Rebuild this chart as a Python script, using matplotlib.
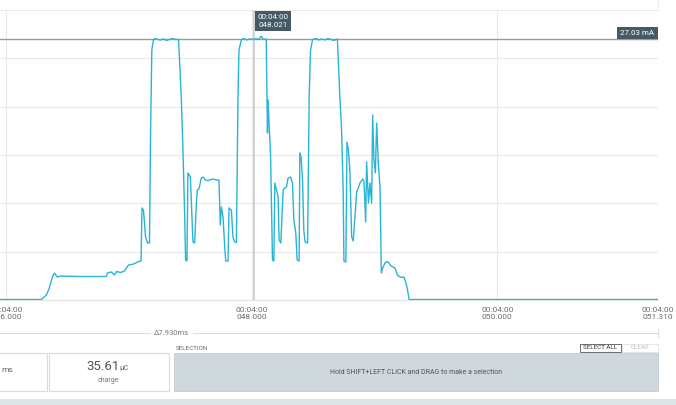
import matplotlib
matplotlib.use('Agg')
import matplotlib.pyplot as plt
from matplotlib.patches import Rectangle
from matplotlib.lines import Line2D

plt.rcParams['font.family'] = ['Roboto', 'DejaVu Sans']

# time in ms (after 00:04:00), current in mA
t_ms = [45.943, 46.286, 46.327, 46.351, 46.376, 46.392, 46.416, 46.441, 46.596, 46.816,
        46.824, 46.857, 46.882, 46.898, 46.931, 46.963, 46.996, 47.037, 47.078, 47.098,
        47.106, 47.118, 47.135, 47.151, 47.167, 47.176, 47.186, 47.200,
        47.216, 47.233, 47.257, 47.282, 47.306, 47.331, 47.355, 47.380, 47.404,
        47.426, 47.439, 47.453, 47.461, 47.472, 47.480, 47.500, 47.521, 47.535, 47.549,
        47.557, 47.570, 47.589, 47.602, 47.624, 47.643, 47.684, 47.712, 47.733, 47.744,
        47.753, 47.766, 47.780, 47.788, 47.807, 47.815, 47.834, 47.847, 47.861, 47.875,
        47.888, 47.896, 47.916,
        47.935, 47.959, 47.984, 48.008, 48.033, 48.057, 48.078, 48.094, 48.118,
        48.128, 48.133, 48.141, 48.153, 48.169, 48.180, 48.188, 48.202, 48.215, 48.223,
        48.237, 48.256, 48.269, 48.283, 48.296, 48.316, 48.332, 48.343, 48.359, 48.370,
        48.386, 48.392, 48.402, 48.414, 48.424, 48.435, 48.455, 48.468, 48.479, 48.496,
        48.522, 48.547, 48.571, 48.596, 48.620, 48.645, 48.669, 48.698,
        48.718, 48.732, 48.745, 48.751, 48.767, 48.776, 48.788, 48.800, 48.814, 48.827,
        48.841, 48.855, 48.868, 48.882, 48.904, 48.914, 48.928, 48.936, 48.951, 48.963,
        48.977, 48.985, 48.996, 49.007, 49.018, 49.031, 49.045, 49.056, 49.067, 49.086,
        49.102, 49.118, 49.135, 49.151, 49.167, 49.186, 49.208, 49.230, 49.239, 49.257,
        49.268, 49.282, 51.314]
i_ma = [0.05, 0.05, 0.52, 1.24, 2.38, 2.79, 2.38, 2.48, 2.43, 2.43,
        2.79, 2.90, 2.59, 2.95, 2.84, 3.00, 3.62, 3.72, 3.98, 4.03,
        9.52, 9.31, 6.52, 5.90, 5.90, 17.59, 25.86, 26.95,
        27.05, 26.95, 26.90, 27.00, 26.85, 26.95, 27.05, 26.95, 26.95,
        21.00, 15.83, 9.00, 4.14, 4.03, 13.14, 12.72, 6.00, 5.90, 10.03,
        11.38, 11.48, 12.62, 12.72, 12.41, 12.36, 12.52, 12.41, 12.41, 7.76,
        9.62, 8.59, 5.48, 4.03, 4.03, 9.52, 9.31, 6.52, 6.00, 5.95,
        21.00, 25.86, 26.95,
        27.05, 26.90, 27.00, 26.95, 27.05, 26.95, 27.31, 26.95, 27.00,
        17.28, 20.69, 18.31, 15.21, 4.14, 4.03, 12.10, 11.38, 10.66, 6.21,
        5.90, 11.38, 11.59, 11.69, 12.62, 12.72, 12.10, 8.28, 6.93, 4.14,
        4.03, 15.21, 14.79, 12.41, 7.24, 6.00, 5.90, 21.00, 25.86, 26.95,
        27.05, 26.90, 27.00, 26.90, 27.05, 26.95, 26.85, 27.00,
        21.00, 17.59, 11.38, 4.03, 3.93, 16.34, 15.52, 13.24, 6.52, 6.10,
        8.59, 11.17, 11.59, 12.10, 12.52, 12.31, 8.07, 14.28, 10.03, 12.10,
        10.03, 19.14, 14.48, 13.14, 18.31, 14.17, 11.69, 2.79, 3.31, 3.83,
        3.98, 3.83, 3.52, 3.41, 3.31, 2.59, 2.38, 2.33, 2.38, 1.76,
        1.14, 0.05, 0.05]

tick_pos = [46.0, 48.0, 50.0, 51.31]
tick_labels = ['00:04:00\n046.000', '00:04:00\n048.000', '00:04:00\n050.000', '00:04:00\n051.310']
marker_ma = 27.03
cursor_ms = 48.021

W, H = 676, 405
fig = plt.figure(figsize=(W / 100, H / 100), dpi=100)


def fx(x):
    return x / W


def fy(y):
    return 1 - y / H


ax = fig.add_axes([0, fy(300), fx(658), (300 - 10) / H])
ax.plot(t_ms, i_ma, color='#29b4d5', lw=1.0, zorder=3)
ax.set_xlim(45.949, 51.31)
ax.set_ylim(0, 30)
ax.set_yticks(range(0, 31, 5))
ax.set_xticks(tick_pos)
ax.set_xticklabels(tick_labels, fontsize=6, color='#6e6e6e', linespacing=1.25)
ax.tick_params(axis='x', length=0, pad=5)
ax.tick_params(axis='y', length=0, labelleft=False)
ax.grid(True, color='#e9e9e9', lw=0.8)
for s in ['top', 'left', 'right']:
    ax.spines[s].set_visible(False)
ax.spines['bottom'].set_color('#e3e3e3')
ax.set_axisbelow(True)

# marker line and label
ax.axhline(marker_ma, color='#8d9fa5', lw=1.0, zorder=2)
fig.patches.append(Rectangle((fx(617), fy(39)), fx(41), 12 / H, transform=fig.transFigure,
                             facecolor='#455a64', edgecolor='none'))
fig.text(fx(637.5), fy(33), '27.03 mA', color='white', fontsize=5.7, ha='center', va='center')

# cursor
ax.axvline(cursor_ms, color='#ccd2d5', lw=1.4, zorder=2)
fig.patches.append(Rectangle((fx(254.5), fy(31)), fx(36.5), 20 / H, transform=fig.transFigure,
                             facecolor='#455a64', edgecolor='none'))
fig.text(fx(273), fy(21), '00:04:00\n048.021', color='white', fontsize=5.8,
         ha='center', va='center', linespacing=1.45)

# cut-off label at top
fig.text(fx(171), fy(-2), 'Δseconds', color='#9a9a9a', fontsize=6, ha='center', va='center')
fig.add_artist(Line2D([fx(658), fx(658)], [fy(0), fy(10)], color='#eeeeee', lw=0.8))

# delta span line
fig.add_artist(Line2D([0, fx(150)], [fy(333), fy(333)], color='#dddddd', lw=0.8))
fig.add_artist(Line2D([fx(193), fx(658)], [fy(333), fy(333)], color='#dddddd', lw=0.8))
fig.add_artist(Line2D([fx(658), fx(658)], [fy(329), fy(337)], color='#dddddd', lw=0.8))
fig.text(fx(171.5), fy(333), 'Δ7.930ms', color='#777777', fontsize=5.5, ha='center', va='center')

# bottom panel
fig.patches.append(Rectangle((fx(-2), fy(391)), fx(49), 38 / H, transform=fig.transFigure,
                             facecolor='white', edgecolor='#dadada', lw=0.8))
fig.text(fx(1), fy(370), 'ms', color='#666666', fontsize=6, ha='left', va='center')
fig.patches.append(Rectangle((fx(48.5), fy(391)), fx(120.5), 38 / H, transform=fig.transFigure,
                             facecolor='white', edgecolor='#dadada', lw=0.8))
fig.text(fx(103), fy(367), '35.61', color='#555555', fontsize=9.5, ha='center', va='center')
fig.text(fx(119), fy(368), 'μC', color='#666666', fontsize=5.5, ha='left', va='center')
fig.text(fx(108.5), fy(381), 'charge', color='#777777', fontsize=5, ha='center', va='center')

fig.text(fx(176), fy(348), 'SELECTION', color='#666666', fontsize=4.5, ha='left', va='center')
fig.patches.append(Rectangle((fx(174), fy(391)), fx(484), 38 / H, transform=fig.transFigure,
                             facecolor='#cfd8dc', edgecolor='#c4ced2', lw=0.6))
fig.text(fx(416), fy(372), 'Hold SHIFT+LEFT CLICK and DRAG to make a selection',
         color='#555555', fontsize=5, ha='center', va='center')

fig.patches.append(Rectangle((fx(580), fy(351.5)), fx(41), 8 / H, transform=fig.transFigure,
                             facecolor='white', edgecolor='#555555', lw=0.6))
fig.text(fx(600.5), fy(347.5), 'SELECT ALL', color='#333333', fontsize=4.5, ha='center', va='center')
fig.patches.append(Rectangle((fx(622), fy(351.5)), fx(36), 8 / H, transform=fig.transFigure,
                             facecolor='white', edgecolor='#e2e2e2', lw=0.6))
fig.text(fx(640), fy(347.5), 'CLEAR', color='#c0c0c0', fontsize=4.5, ha='center', va='center')

fig.patches.append(Rectangle((0, 0), 1, 6 / H, transform=fig.transFigure,
                             facecolor='#dfe4e7', edgecolor='none'))

fig.savefig('out.png', dpi=100)
